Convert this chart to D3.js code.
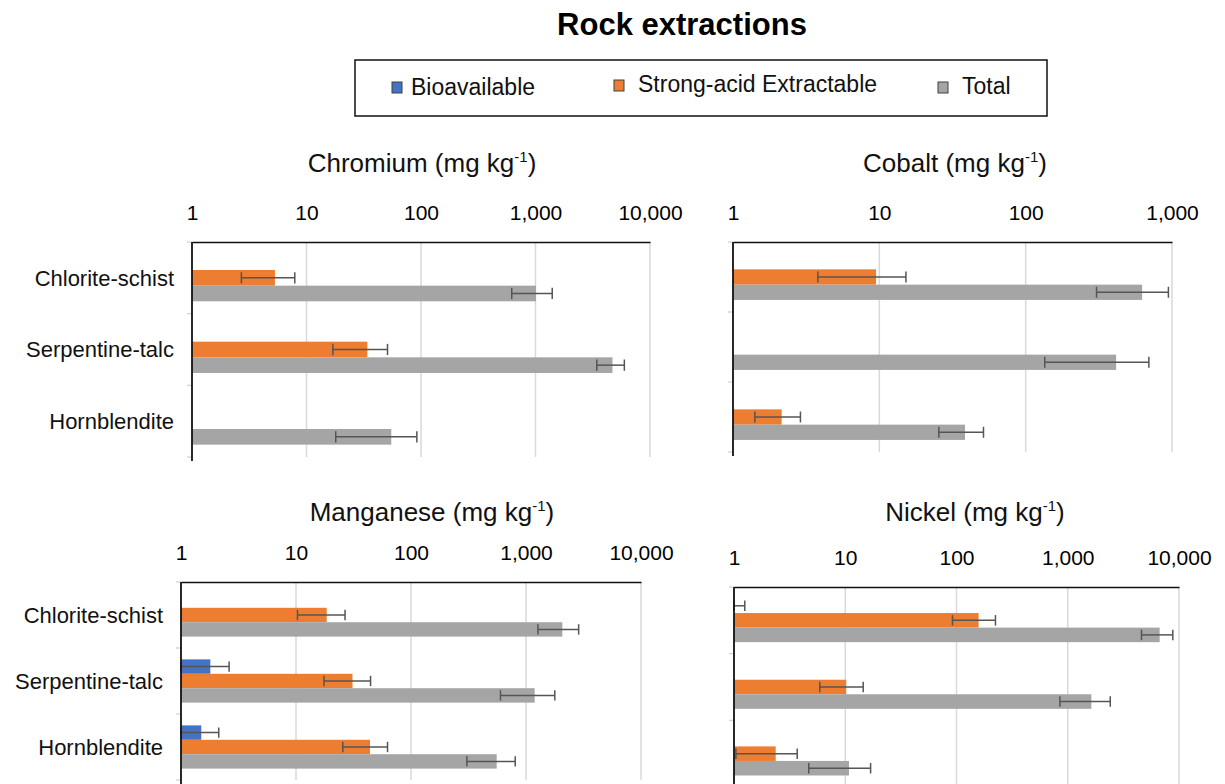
<!DOCTYPE html>
<html>
<head>
<meta charset="utf-8">
<script src="https://cdn.jsdelivr.net/npm/d3@7"></script>
<style>
  html, body { margin: 0; padding: 0; background: #fff; }
  svg { display: block; font-family: "Liberation Sans", Arial, sans-serif; }
</style>
</head>
<body>
<script>
// Rock types and extraction series
const categories = ["Chlorite-schist", "Serpentine-talc", "Hornblendite"];
const seriesNames = ["Bioavailable", "Strong-acid Extractable", "Total"];

// Axis tick values (mg kg-1, log scale)
const chromiumTicks = [1, 10, 100, 1000, 10000];
const cobaltTicks = [1, 10, 100, 1000];
const manganeseTicks = [1, 10, 100, 1000, 10000];
const nickelTicks = [1, 10, 100, 1000, 10000];

// Chromium means and standard deviations (null = not detected / below 1)
const chromiumBio = [null, null, null];
const chromiumBioSd = [null, null, null];
const chromiumAcid = [5.3, 34, null];
const chromiumAcidSd = [2.6, 17, null];
const chromiumTotal = [1010, 4700, 55];
const chromiumTotalSd = [390, 1270, 37];

// Cobalt
const cobaltBio = [null, null, null];
const cobaltBioSd = [null, null, null];
const cobaltAcid = [9.5, null, 2.15];
const cobaltAcidSd = [5.7, null, 0.74];
const cobaltTotal = [625, 415, 38.5];
const cobaltTotalSd = [320, 280, 13];

// Manganese
const manganeseBio = [null, 1.8, 1.5];
const manganeseBioSd = [null, 0.82, 0.63];
const manganeseAcid = [18.5, 31, 44];
const manganeseAcidSd = [8.2, 13.5, 18.5];
const manganeseTotal = [2070, 1190, 556];
const manganeseTotalSd = [800, 590, 250];

// Nickel
const nickelBio = [1.0, null, null];
const nickelBioSd = [0.25, null, null];
const nickelAcid = [158, 10.2, 2.37];
const nickelAcidSd = [66, 4.3, 1.33];
const nickelTotal = [6700, 1630, 10.8];
const nickelTotalSd = [2100, 780, 6.1];

const panels = [
  { element: "Chromium", ticks: chromiumTicks,
    values: [chromiumBio, chromiumAcid, chromiumTotal],
    sds: [chromiumBioSd, chromiumAcidSd, chromiumTotalSd] },
  { element: "Cobalt", ticks: cobaltTicks,
    values: [cobaltBio, cobaltAcid, cobaltTotal],
    sds: [cobaltBioSd, cobaltAcidSd, cobaltTotalSd] },
  { element: "Manganese", ticks: manganeseTicks,
    values: [manganeseBio, manganeseAcid, manganeseTotal],
    sds: [manganeseBioSd, manganeseAcidSd, manganeseTotalSd] },
  { element: "Nickel", ticks: nickelTicks,
    values: [nickelBio, nickelAcid, nickelTotal],
    sds: [nickelBioSd, nickelAcidSd, nickelTotalSd] }
];

// Plot boxes for the 2x2 grid
const layout = [
  { left: 192, right: 650, top: 242, bottom: 457, titleX: 422, titleY: 172, labels: true },
  { left: 733, right: 1172, top: 242, bottom: 452, titleX: 955, titleY: 172, labels: false },
  { left: 181, right: 641, top: 582, bottom: 780, titleX: 432, titleY: 521, labels: true },
  { left: 734, right: 1179, top: 587, bottom: 787, titleX: 975, titleY: 521, labels: false }
];

const FONT = "'Liberation Sans', Arial, sans-serif";
const color = d3.scaleOrdinal(seriesNames, ["#4472C4", "#ED7D31", "#A5A5A5"]);

const svg = d3.select("body").append("svg")
  .attr("width", 1225).attr("height", 784)
  .attr("font-family", FONT);

// Main title
svg.append("text")
  .attr("x", 682).attr("y", 35)
  .attr("text-anchor", "middle")
  .attr("font-size", 31).attr("font-weight", "bold")
  .attr("fill", "#000")
  .text("Rock extractions");

// Legend
const legend = svg.append("g");
legend.append("rect")
  .attr("x", 355).attr("y", 60).attr("width", 692).attr("height", 56)
  .attr("fill", "#fff").attr("stroke", "#111").attr("stroke-width", 1.5);
const legendItems = [
  { name: seriesNames[0], mx: 392, my: 82, tx: 411, ty: 95 },
  { name: seriesNames[1], mx: 614, my: 80, tx: 638, ty: 92 },
  { name: seriesNames[2], mx: 938, my: 82, tx: 962, ty: 94 }
];
legendItems.forEach(d => {
  legend.append("rect")
    .attr("x", d.mx).attr("y", d.my).attr("width", 10).attr("height", 11)
    .attr("fill", color(d.name)).attr("stroke", "#404040").attr("stroke-width", 1);
  legend.append("text")
    .attr("x", d.tx).attr("y", d.ty)
    .attr("font-size", 23).attr("fill", "#111")
    .text(d.name);
});

function drawPanel(p, box) {
  const g = svg.append("g");
  const x = d3.scaleLog()
    .domain([p.ticks[0], p.ticks[p.ticks.length - 1]])
    .range([box.left, box.right]);
  const y0 = d3.scaleBand()
    .domain(categories)
    .range([box.top, box.bottom])
    .paddingInner(0.345).paddingOuter(0.1725);
  const y1 = d3.scaleBand()
    .domain(seriesNames)
    .range([0, y0.bandwidth()]);

  // Title with superscript unit
  const t = g.append("text")
    .attr("x", box.titleX).attr("y", box.titleY)
    .attr("text-anchor", "middle")
    .attr("font-size", 26).attr("fill", "#111");
  t.append("tspan").text(p.element + " (mg kg");
  t.append("tspan").attr("font-size", 15).attr("dy", -10).text("-1");
  t.append("tspan").attr("dy", 10).text(")");

  // Vertical gridlines at each decade
  g.append("g").selectAll("line")
    .data(p.ticks.slice(1))
    .join("line")
    .attr("x1", d => x(d)).attr("x2", d => x(d))
    .attr("y1", box.top).attr("y2", box.bottom)
    .attr("stroke", "#d9d9d9").attr("stroke-width", 1.5);

  // Small category-boundary ticks on the value axis
  const bounds = [box.top, ...categories.slice(1).map(c => y0(c) - y0.step() * y0.paddingInner() / 2), box.bottom];
  g.append("g").selectAll("line")
    .data(bounds)
    .join("line")
    .attr("x1", x(1) - 5).attr("x2", x(1))
    .attr("y1", d => d).attr("y2", d => d)
    .attr("stroke", "#d0d0d0").attr("stroke-width", 1.2);

  // Bars
  const rows = [];
  categories.forEach((c, ci) => {
    seriesNames.forEach((s, si) => {
      const v = p.values[si][ci];
      if (v != null) rows.push({ c, s, v, sd: p.sds[si][ci] });
    });
  });

  g.append("g").selectAll("rect")
    .data(rows)
    .join("rect")
    .attr("x", x(1))
    .attr("y", d => y0(d.c) + y1(d.s))
    .attr("width", d => Math.max(0, x(d.v) - x(1)))
    .attr("height", y1.bandwidth())
    .attr("fill", d => color(d.s));

  // Error bars (mean ± SD, clipped at the axis minimum)
  const capH = y1.bandwidth() * 0.72;
  const eb = g.append("g").attr("stroke", "#555").attr("stroke-width", 1.5);
  rows.filter(d => d.sd != null).forEach(d => {
    const cy = y0(d.c) + y1(d.s) + y1.bandwidth() / 2;
    const lo = x(Math.max(d.v - d.sd, p.ticks[0]));
    const hi = x(d.v + d.sd);
    eb.append("line").attr("x1", lo).attr("x2", hi).attr("y1", cy).attr("y2", cy);
    [lo, hi].forEach(xx => {
      eb.append("line").attr("x1", xx).attr("x2", xx)
        .attr("y1", cy - capH / 2).attr("y2", cy + capH / 2);
    });
  });

  // Value axis along the top
  const axis = g.append("g")
    .attr("transform", `translate(0,${box.top})`)
    .call(d3.axisTop(x)
      .tickValues(p.ticks)
      .tickFormat(d3.format(","))
      .tickSize(0).tickSizeOuter(0)
      .tickPadding(22));
  axis.attr("font-family", FONT);
  axis.select(".domain").attr("stroke", "#111").attr("stroke-width", 1.6);
  axis.selectAll(".tick text")
    .attr("font-size", 21)
    .attr("fill", "#000");

  // Category axis line
  g.append("line")
    .attr("x1", x(1)).attr("x2", x(1))
    .attr("y1", box.top).attr("y2", box.bottom + 4)
    .attr("stroke", "#111").attr("stroke-width", 1.8);

  // Category labels
  if (box.labels) {
    g.append("g").selectAll("text")
      .data(categories)
      .join("text")
      .attr("x", x(1) - 18)
      .attr("y", d => y0(d) + y0.bandwidth() / 2)
      .attr("dy", "0.35em")
      .attr("text-anchor", "end")
      .attr("font-size", 22).attr("fill", "#111")
      .text(d => d);
  }
}

panels.forEach((p, i) => drawPanel(p, layout[i]));
</script>
</body>
</html>
